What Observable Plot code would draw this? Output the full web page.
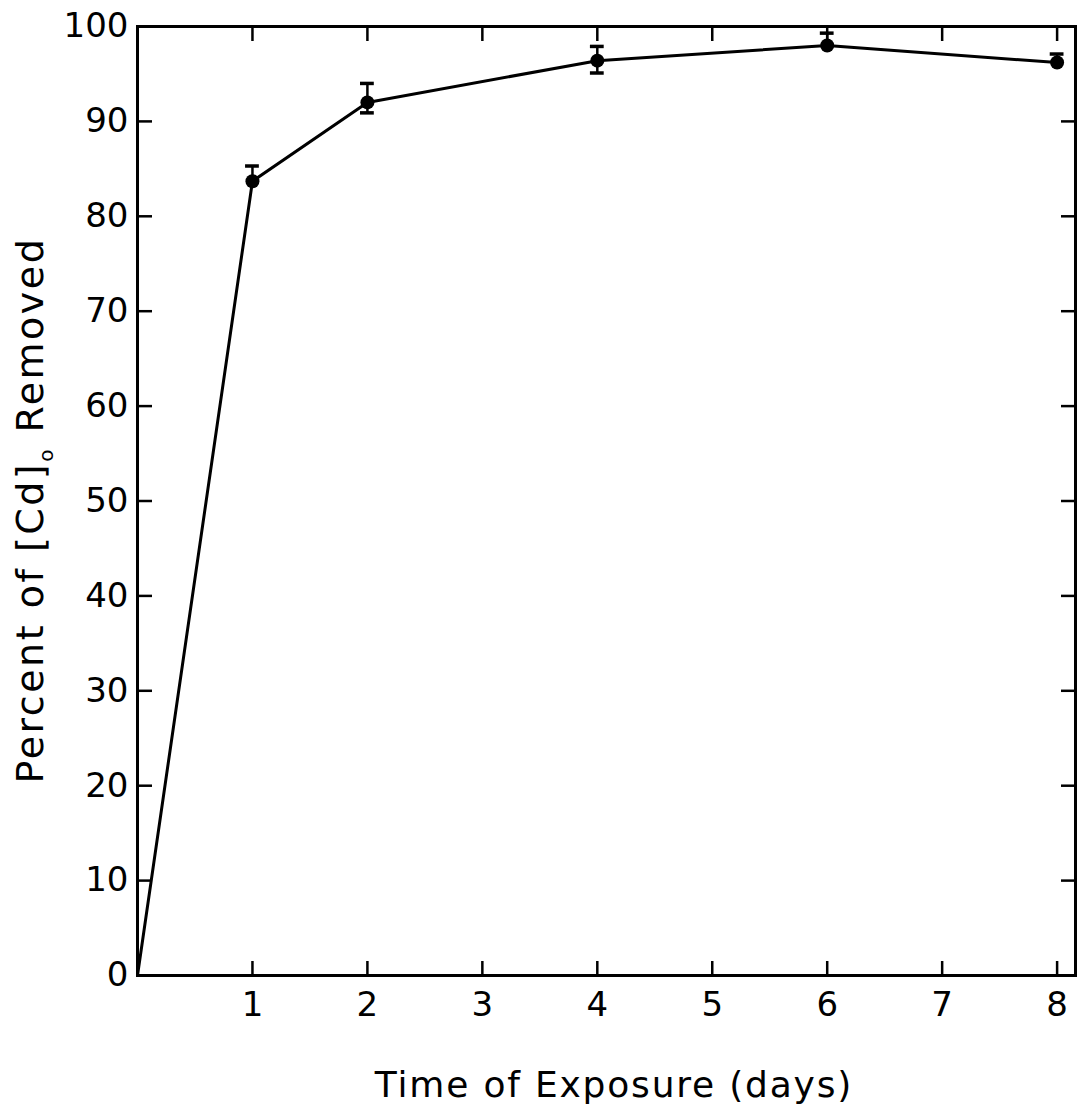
<!DOCTYPE html>
<html><head><meta charset="utf-8">
<script src="https://cdn.jsdelivr.net/npm/d3@7"></script>
<script src="https://cdn.jsdelivr.net/npm/@observablehq/plot@0.6"></script>
<style>body{margin:0;background:#fff} svg{display:block}</style>
</head><body><div id="chart"></div>
<script>
const days = [0, 1, 2, 4, 6, 8];
const removed = [0, 83.7, 92.0, 96.4, 98.0, 96.2];
const errLow = [null, 83.7, 90.9, 95.1, 98.0, 96.2];
const errHigh = [null, 85.3, 94.0, 97.9, 99.3, 97.1];
const xTicks = [1, 2, 3, 4, 5, 6, 7, 8];
const yTicks = [0, 10, 20, 30, 40, 50, 60, 70, 80, 90, 100];
const xLabel = "Time of Exposure (days)";
const yLabelMain = "Percent of [Cd]";
const yLabelSub = "o";
const yLabelEnd = " Removed";

const data = days.map((d, i) => ({day: d, pct: removed[i], lo: errLow[i], hi: errHigh[i]}));
const errData = data.filter(d => d.hi != null);
const capHalf = 0.06;

const W = 1092, H = 1111;
const chart = Plot.plot({
  width: W, height: H,
  marginLeft: 137, marginRight: 17, marginTop: 26, marginBottom: 136,
  style: {fontFamily: "DejaVu Sans", fontSize: "34px", color: "black", background: "white", overflow: "visible"},
  x: {domain: [0, 8.16]},
  y: {domain: [0, 100]},
  marks: [
    Plot.line(data, {x: "day", y: "pct", stroke: "black", strokeWidth: 3}),
    Plot.ruleX(errData, {x: "day", y1: "lo", y2: "hi", stroke: "black", strokeWidth: 2.5}),
    Plot.ruleY(errData, {y: "hi", x1: d => d.day - capHalf, x2: d => d.day + capHalf, stroke: "black", strokeWidth: 3.5}),
    Plot.ruleY(errData.filter(d => d.lo < d.pct - 0.6), {y: "lo", x1: d => d.day - capHalf, x2: d => d.day + capHalf, stroke: "black", strokeWidth: 3.5}),
    Plot.dot(data.filter(d => d.day > 0), {x: "day", y: "pct", r: 7, fill: "black", stroke: "none"}),
    // labels
    Plot.axisX({anchor: "bottom", ticks: xTicks, tickSize: 0, tickPadding: 16, label: null, tickFormat: d => String(d)}),
    Plot.axisY({anchor: "left", ticks: yTicks, tickSize: 0, tickPadding: 9, label: null}),
    // inward ticks
    Plot.axisX({anchor: "bottom", ticks: xTicks, tickSize: -14, fill: "none", label: null, strokeWidth: 2.5}),
    Plot.axisX({anchor: "top", ticks: xTicks, tickSize: -14, fill: "none", label: null, strokeWidth: 2.5}),
    Plot.axisY({anchor: "left", ticks: yTicks, tickSize: -15, fill: "none", label: null, strokeWidth: 2.5}),
    Plot.axisY({anchor: "right", ticks: yTicks, tickSize: -15, fill: "none", label: null, strokeWidth: 2.5}),
    Plot.frame({stroke: "black", strokeWidth: 3})
  ]
});
document.getElementById("chart").appendChild(chart);

const svg = d3.select(chart);
svg.append("text")
  .attr("x", 614).attr("y", 1097)
  .attr("text-anchor", "middle")
  .attr("font-family", "DejaVu Sans").attr("font-size", 36)
  .attr("letter-spacing", 1.8)
  .attr("fill", "black")
  .text(xLabel);

const yl = svg.append("text")
  .attr("transform", "translate(43,510) rotate(-90)")
  .attr("text-anchor", "middle")
  .attr("font-family", "DejaVu Sans").attr("font-size", 38)
  .attr("letter-spacing", 2.5)
  .attr("fill", "black");
yl.append("tspan").text(yLabelMain);
yl.append("tspan").attr("font-size", 20).attr("dy", 10).text(yLabelSub);
yl.append("tspan").attr("dy", -10).text(yLabelEnd);
</script>
</body></html>
